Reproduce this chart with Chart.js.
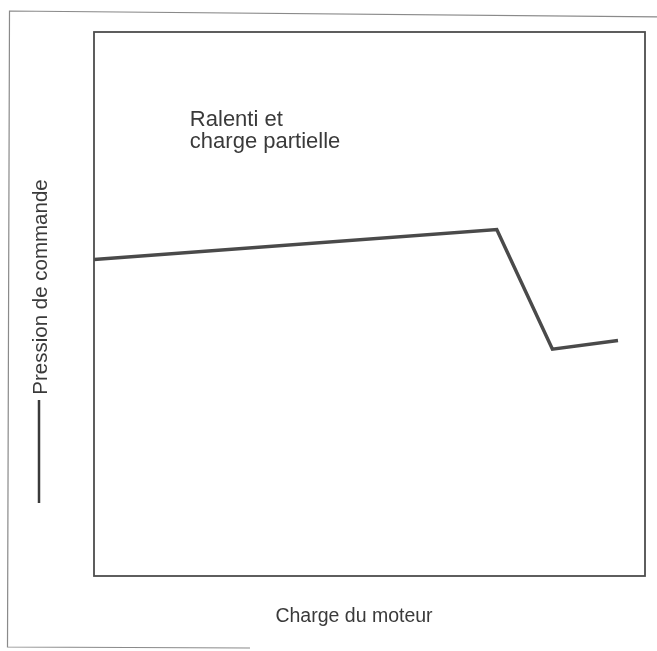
<!DOCTYPE html>
<html>
<head>
<meta charset="utf-8">
<script src="https://cdn.jsdelivr.net/npm/chart.js@4.4.1/dist/chart.umd.min.js"></script>
<style>
html,body{margin:0;padding:0;background:#fff;}
#wrap{width:657px;height:651px;position:relative;}
</style>
</head>
<body>
<div id="wrap"><canvas id="c" width="657" height="651"></canvas></div>
<script>
// Data (arbitrary units, 0-100 on both axes)
const loadValues = [0, 73.1, 83.2, 95.1];          // Charge du moteur
const pressureValues = [58.2, 63.7, 41.7, 43.3];   // Pression de commande
const xTitle = "Charge du moteur";
const yTitle = "Pression de commande";
const noteLines = ["Ralenti et", "charge partielle"];

const points = loadValues.map((x, i) => ({x: x, y: pressureValues[i]}));

const decor = {
  id: 'decor',
  beforeDraw(chart) {
    const ctx = chart.ctx;
    ctx.save();
    ctx.fillStyle = '#fff';
    ctx.fillRect(0, 0, chart.width, chart.height);
    // outer frame
    ctx.strokeStyle = '#8a8a8a';
    ctx.lineWidth = 1.2;
    ctx.beginPath();
    ctx.moveTo(680, 17);
    ctx.lineTo(9.5, 11);
    ctx.lineTo(7.5, 647);
    ctx.lineTo(250, 648);
    ctx.stroke();
    ctx.restore();
  },
  afterDraw(chart) {
    const ctx = chart.ctx;
    const a = chart.chartArea;
    const xs = chart.scales.x, ys = chart.scales.y;
    ctx.save();
    // plot box
    ctx.strokeStyle = '#4d4d4d';
    ctx.lineWidth = 1.8;
    ctx.strokeRect(a.left, a.top, a.right - a.left, a.bottom - a.top);
    // note
    ctx.fillStyle = '#3a3a3a';
    ctx.font = '22px "Liberation Sans", Arial, sans-serif';
    ctx.textBaseline = 'alphabetic';
    ctx.textAlign = 'left';
    const nx = xs.getPixelForValue(17.4);
    ctx.fillText(noteLines[0], nx, ys.getPixelForValue(82.7));
    ctx.fillText(noteLines[1], nx, ys.getPixelForValue(78.6));
    // x title
    ctx.font = '19.5px "Liberation Sans", Arial, sans-serif';
    ctx.textAlign = 'center';
    ctx.fillText(xTitle, 354, 622);
    // y title (rotated) with leading rule
    ctx.font = '20.5px "Liberation Sans", Arial, sans-serif';
    ctx.translate(47, 287);
    ctx.rotate(-Math.PI / 2);
    ctx.fillText(yTitle, 0, 0);
    ctx.restore();
    ctx.save();
    ctx.strokeStyle = '#3a3a3a';
    ctx.lineWidth = 2.5;
    ctx.beginPath();
    ctx.moveTo(39, 400);
    ctx.lineTo(39, 503);
    ctx.stroke();
    ctx.restore();
  }
};

new Chart(document.getElementById('c'), {
  type: 'line',
  data: {
    datasets: [{
      data: points,
      borderColor: '#4a4a4a',
      borderWidth: 3.5,
      pointRadius: 0,
      tension: 0,
      fill: false
    }]
  },
  options: {
    responsive: false,
    animation: false,
    devicePixelRatio: 1,
    layout: {padding: {left: 94, top: 32, right: 12, bottom: 75}},
    plugins: {legend: {display: false}, tooltip: {enabled: false}},
    scales: {
      x: {type: 'linear', min: 0, max: 100, display: false},
      y: {type: 'linear', min: 0, max: 100, display: false}
    }
  },
  plugins: [decor]
});
</script>
</body>
</html>
